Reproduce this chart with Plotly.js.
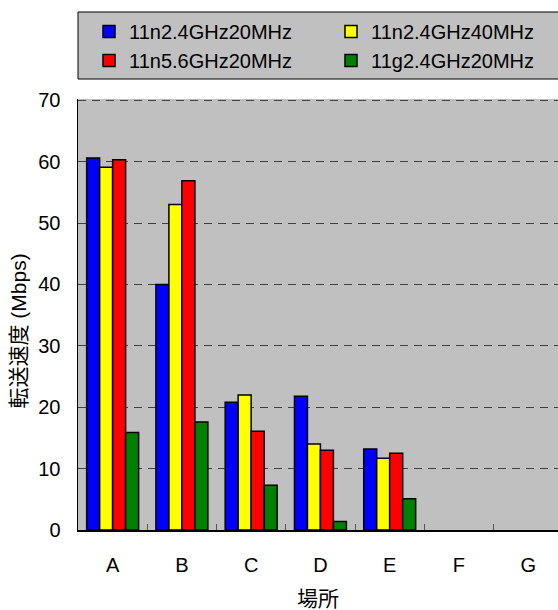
<!DOCTYPE html>
<html>
<head>
<meta charset="utf-8">
<script src="https://cdn.plot.ly/plotly-3.0.1.min.js"></script>
<style>html,body{margin:0;padding:0;background:#fff;}#chart{width:558px;height:610px;}</style>
</head>
<body>
<div id="chart"></div>
<script>
var categories = ["A", "B", "C", "D", "E", "F", "G"];
var seriesNames = ["11n2.4GHz20MHz", "11n2.4GHz40MHz", "11n5.6GHz20MHz", "11g2.4GHz20MHz"];
var n24_20 = [60.6, 40.0, 20.8, 21.8, 13.2, null, null];
var n24_40 = [59.1, 53.0, 22.0, 14.0, 11.7, null, null];
var n56_20 = [60.3, 56.9, 16.1, 13.0, 12.5, null, null];
var g24_20 = [15.9, 17.6, 7.3, 1.4, 5.1, null, null];
var seriesColors = ["#0000ff", "#ffff00", "#ff0000", "#008000"];
var legendColumn = ["legend", "legend2", "legend", "legend2"];
var yTickVals = [0, 10, 20, 30, 40, 50, 60, 70];
var xTitle = "場所";
var yTitle = "転送速度 (Mbps)";

var FONT = "'Liberation Sans', Arial, 'Noto Sans CJK JP', sans-serif";
var allValues = [n24_20, n24_40, n56_20, g24_20];
var traces = allValues.map(function (vals, i) {
  return {
    type: "bar",
    name: seriesNames[i],
    x: categories,
    y: vals,
    legend: legendColumn[i],
    marker: { color: seriesColors[i], line: { color: "#000000", width: 1.5 } },
    hoverinfo: "x+y+name"
  };
});

function legendSpec(xpos) {
  return {
    orientation: "v",
    x: xpos, xanchor: "left", xref: "paper",
    y: 1 - 12 / 610, yref: "container", yanchor: "top",
    bgcolor: "rgba(0,0,0,0)",
    borderwidth: 0,
    font: { family: FONT, size: 20, color: "#000000" },
    traceorder: "normal"
  };
}

var layout = {
  width: 558,
  height: 610,
  margin: { l: 78, r: 0, t: 99, b: 80, pad: 0, autoexpand: false },
  paper_bgcolor: "#ffffff",
  plot_bgcolor: "#c0c0c0",
  font: { family: FONT, size: 20, color: "#000000" },
  barmode: "group",
  bargap: 0.25,
  bargroupgap: 0,
  showlegend: true,
  legend: legendSpec((89 - 78) / 480),
  legend2: legendSpec((331 - 78) / 480),
  shapes: [{
    type: "rect", xref: "paper", yref: "paper",
    x0: 0, x1: 1.01,
    y0: 1 + 20 / 431, y1: 1 + 87 / 431,
    fillcolor: "#c0c0c0",
    line: { color: "#000000", width: 1 },
    layer: "below"
  }],
  annotations: [{
    text: yTitle,
    xref: "paper", yref: "paper",
    x: -(78 - 17.5) / 480, xanchor: "center",
    y: (530 - 331) / 431, yanchor: "middle",
    textangle: -90,
    showarrow: false,
    font: { family: FONT, size: 21, color: "#000000" }
  }],
  xaxis: {
    type: "category",
    categoryorder: "array",
    categoryarray: categories,
    range: [-0.5, 6.43],
    showline: true,
    linecolor: "#000000",
    linewidth: 1.5,
    showgrid: false,
    ticks: "inside",
    tickson: "boundaries",
    ticklen: 6,
    tickcolor: "#555555",
    tickwidth: 1,
    ticklabelstandoff: 16,
    tickfont: { family: FONT, size: 20, color: "#000000" },
    title: { text: xTitle, font: { family: FONT, size: 21, color: "#000000" }, standoff: 17 },
    fixedrange: true
  },
  yaxis: {
    range: [0, 70.2],
    tickvals: yTickVals,
    ticktext: yTickVals.map(String),
    showline: true,
    linecolor: "#000000",
    linewidth: 1.5,
    showgrid: true,
    gridcolor: "#404040",
    gridwidth: 1,
    griddash: "8px,6px",
    zeroline: false,
    ticks: "",
    ticklabelstandoff: 12,
    tickfont: { family: FONT, size: 20, color: "#000000" },
    fixedrange: true
  }
};

Plotly.newPlot("chart", traces, layout, { displayModeBar: false, staticPlot: true });
</script>
</body>
</html>
